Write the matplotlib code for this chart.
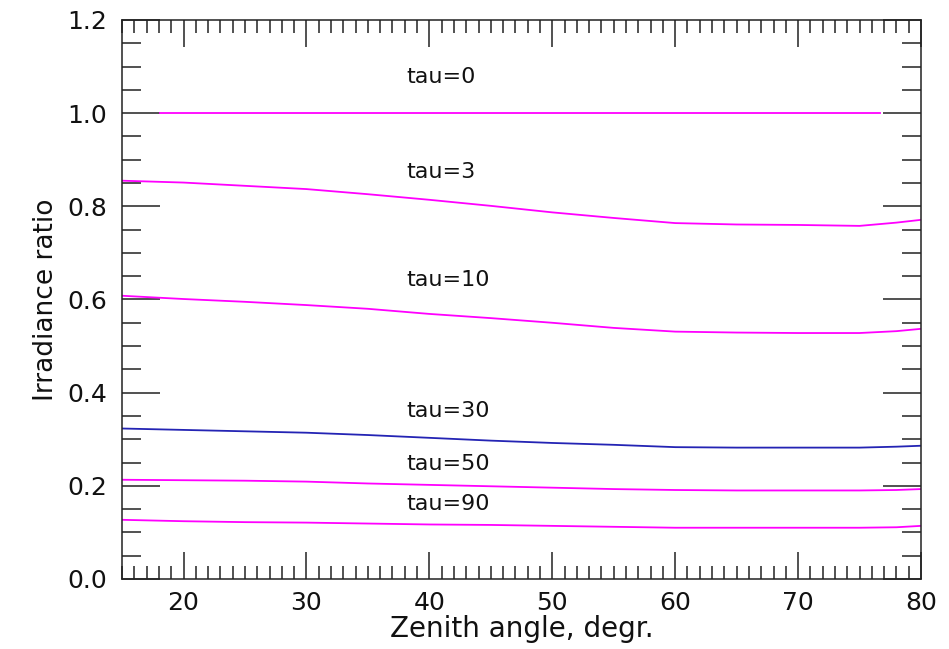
import numpy as np
import matplotlib
matplotlib.use("Agg")
import matplotlib.pyplot as plt
from matplotlib.ticker import MultipleLocator

zenith = [15, 20, 25, 30, 35, 40, 45, 50, 55, 60, 65, 70, 75, 78, 80]

# irradiance ratio for each optical depth
tau3 = [0.855, 0.851, 0.844, 0.837, 0.826, 0.814, 0.801, 0.787, 0.775, 0.764, 0.761, 0.760, 0.758, 0.765, 0.771]
tau10 = [0.608, 0.601, 0.595, 0.588, 0.580, 0.569, 0.560, 0.550, 0.539, 0.531, 0.529, 0.528, 0.528, 0.532, 0.537]
tau30 = [0.323, 0.320, 0.317, 0.314, 0.309, 0.303, 0.297, 0.292, 0.288, 0.283, 0.282, 0.282, 0.282, 0.284, 0.286]
tau50 = [0.213, 0.212, 0.211, 0.209, 0.205, 0.202, 0.199, 0.196, 0.193, 0.191, 0.190, 0.190, 0.190, 0.191, 0.193]
tau90 = [0.127, 0.124, 0.122, 0.121, 0.119, 0.117, 0.116, 0.114, 0.112, 0.110, 0.110, 0.110, 0.110, 0.111, 0.114]

# tau=0 line is shorter than the others
zenith0 = [18.1, 76.7]
tau0 = [1.0, 1.0]

# label text and the y value where it sits
labels = ["tau=0", "tau=3", "tau=10", "tau=30", "tau=50", "tau=90"]
label_y = [1.078, 0.874, 0.642, 0.361, 0.247, 0.161]
label_x = 38.1

plt.rcParams['font.family'] = ['DejaVu Sans']

fig = plt.figure(figsize=(9.49, 6.49), dpi=100)
ax = fig.add_axes([0.1286, 0.1079, 0.8419, 0.8613])

magenta = '#ff00ff'
blue = '#2424b4'
lw = 1.3

ax.plot(zenith0, tau0, color=magenta, lw=lw)
ax.plot(zenith, tau3, color=magenta, lw=lw)
ax.plot(zenith, tau10, color=magenta, lw=lw)
ax.plot(zenith, tau30, color=blue, lw=lw)
ax.plot(zenith, tau50, color=magenta, lw=lw)
ax.plot(zenith, tau90, color=magenta, lw=lw)

for txt, yv in zip(labels, label_y):
    ax.text(label_x, yv, txt, fontsize=16, ha='left', va='center', color='#111111')

ax.set_xlim(15, 80)
ax.set_ylim(0, 1.2)

ax.xaxis.set_major_locator(MultipleLocator(10))
ax.xaxis.set_minor_locator(MultipleLocator(1))
ax.yaxis.set_major_locator(MultipleLocator(0.2))
ax.yaxis.set_minor_locator(MultipleLocator(0.05))
ax.yaxis.set_major_formatter(matplotlib.ticker.FormatStrFormatter('%.1f'))

ax.tick_params(axis='both', which='both', direction='in', top=True, right=True,
               width=1.1, color='#222222', labelsize=18, labelcolor='#111111')
ax.tick_params(axis='x', which='major', length=19.4, pad=9)
ax.tick_params(axis='x', which='minor', length=9.4)
ax.tick_params(axis='y', which='major', length=27.4, pad=11)
ax.tick_params(axis='y', which='minor', length=13.7)

for s in ax.spines.values():
    s.set_linewidth(1.1)
    s.set_color('#222222')

ax.set_xlabel('Zenith angle, degr.', fontsize=20, labelpad=0, color='#111111')
ax.set_ylabel('Irradiance ratio', fontsize=19, labelpad=6, color='#111111')

fig.savefig('out.png', dpi=100)
